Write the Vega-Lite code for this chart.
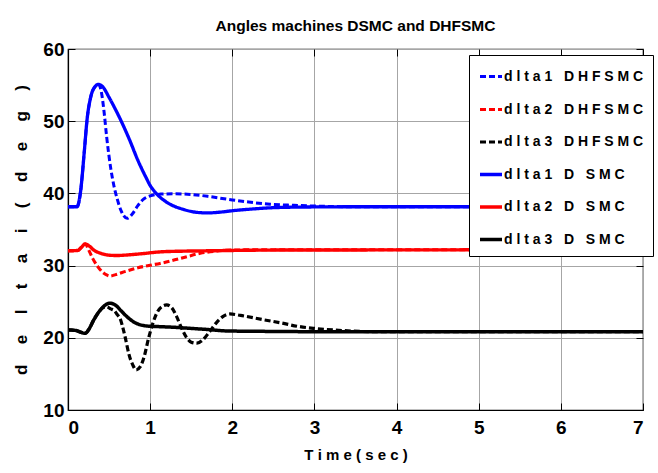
{
  "$schema": "https://vega.github.io/schema/vega-lite/v6.json",
  "width": 575,
  "height": 361,
  "autosize": {"type": "none"},
  "padding": {"left": 68, "top": 49, "right": 15, "bottom": 63},
  "background": "white",
  "title": {"text": "Angles machines DSMC and DHFSMC", "font": "Liberation Sans, sans-serif", "fontSize": 15.5, "fontWeight": "bold", "color": "black", "anchor": "middle", "frame": "group", "offset": 6},
  "config": {
    "view": {"stroke": "black", "strokeWidth": 1.2},
    "axis": {
      "grid": true, "gridColor": "#a6a6a6", "gridWidth": 1, "gridOpacity": 1,
      "domainColor": "black", "domainWidth": 1.2,
      "tickColor": "black", "tickSize": -7, "tickWidth": 1,
      "labelFont": "Liberation Sans, sans-serif", "labelFontSize": 19, "labelFontWeight": "bold", "labelColor": "black",
      "titleColor": "black", "titleFontWeight": "bold"
    }
  },
  "data": {"values": [
    {"s":"dlta1 D SMC","t":0,"v":38.15},{"s":"dlta1 D SMC","t":0.11,"v":38.15},{"s":"dlta1 D SMC","t":0.15,"v":40},{"s":"dlta1 D SMC","t":0.2,"v":46},{"s":"dlta1 D SMC","t":0.23,"v":50},{"s":"dlta1 D SMC","t":0.28,"v":53.5},{"s":"dlta1 D SMC","t":0.33,"v":54.8},{"s":"dlta1 D SMC","t":0.37,"v":55.1},{"s":"dlta1 D SMC","t":0.42,"v":54.8},{"s":"dlta1 D SMC","t":0.5,"v":53.3},{"s":"dlta1 D SMC","t":0.57,"v":51.8},{"s":"dlta1 D SMC","t":0.64,"v":50.2},{"s":"dlta1 D SMC","t":0.75,"v":47.4},{"s":"dlta1 D SMC","t":0.85,"v":44.6},{"s":"dlta1 D SMC","t":0.95,"v":42.2},{"s":"dlta1 D SMC","t":1.0,"v":41.1},{"s":"dlta1 D SMC","t":1.05,"v":40.3},{"s":"dlta1 D SMC","t":1.15,"v":39.2},{"s":"dlta1 D SMC","t":1.26,"v":38.4},{"s":"dlta1 D SMC","t":1.4,"v":37.8},{"s":"dlta1 D SMC","t":1.55,"v":37.4},{"s":"dlta1 D SMC","t":1.7,"v":37.3},{"s":"dlta1 D SMC","t":1.85,"v":37.4},{"s":"dlta1 D SMC","t":2.0,"v":37.6},{"s":"dlta1 D SMC","t":2.2,"v":37.8},{"s":"dlta1 D SMC","t":2.46,"v":38.0},{"s":"dlta1 D SMC","t":2.8,"v":38.1},{"s":"dlta1 D SMC","t":3.5,"v":38.15},{"s":"dlta1 D SMC","t":5,"v":38.15},{"s":"dlta1 D SMC","t":7,"v":38.15},
    {"s":"dlta2 D SMC","t":0,"v":32.05},{"s":"dlta2 D SMC","t":0.12,"v":32.1},{"s":"dlta2 D SMC","t":0.16,"v":32.5},{"s":"dlta2 D SMC","t":0.21,"v":33.0},{"s":"dlta2 D SMC","t":0.26,"v":32.7},{"s":"dlta2 D SMC","t":0.32,"v":32.1},{"s":"dlta2 D SMC","t":0.4,"v":31.7},{"s":"dlta2 D SMC","t":0.49,"v":31.45},{"s":"dlta2 D SMC","t":0.6,"v":31.4},{"s":"dlta2 D SMC","t":0.75,"v":31.5},{"s":"dlta2 D SMC","t":0.9,"v":31.65},{"s":"dlta2 D SMC","t":1.12,"v":31.9},{"s":"dlta2 D SMC","t":1.4,"v":32.0},{"s":"dlta2 D SMC","t":1.7,"v":32.05},{"s":"dlta2 D SMC","t":2.0,"v":32.1},{"s":"dlta2 D SMC","t":2.5,"v":32.15},{"s":"dlta2 D SMC","t":7,"v":32.2},
    {"s":"dlta3 D SMC","t":0,"v":21.1},{"s":"dlta3 D SMC","t":0.1,"v":21.0},{"s":"dlta3 D SMC","t":0.16,"v":20.75},{"s":"dlta3 D SMC","t":0.21,"v":20.62},{"s":"dlta3 D SMC","t":0.25,"v":21.1},{"s":"dlta3 D SMC","t":0.31,"v":22.4},{"s":"dlta3 D SMC","t":0.37,"v":23.5},{"s":"dlta3 D SMC","t":0.43,"v":24.3},{"s":"dlta3 D SMC","t":0.51,"v":24.8},{"s":"dlta3 D SMC","t":0.58,"v":24.5},{"s":"dlta3 D SMC","t":0.65,"v":23.7},{"s":"dlta3 D SMC","t":0.72,"v":22.9},{"s":"dlta3 D SMC","t":0.8,"v":22.2},{"s":"dlta3 D SMC","t":0.88,"v":21.8},{"s":"dlta3 D SMC","t":0.96,"v":21.63},{"s":"dlta3 D SMC","t":1.1,"v":21.55},{"s":"dlta3 D SMC","t":1.3,"v":21.45},{"s":"dlta3 D SMC","t":1.5,"v":21.3},{"s":"dlta3 D SMC","t":1.7,"v":21.15},{"s":"dlta3 D SMC","t":1.93,"v":20.95},{"s":"dlta3 D SMC","t":2.3,"v":20.9},{"s":"dlta3 D SMC","t":3,"v":20.85},{"s":"dlta3 D SMC","t":7,"v":20.85},
    {"s":"dlta1 DHFSMC","t":0,"v":38.15},{"s":"dlta1 DHFSMC","t":0.11,"v":38.15},{"s":"dlta1 DHFSMC","t":0.15,"v":40},{"s":"dlta1 DHFSMC","t":0.2,"v":46},{"s":"dlta1 DHFSMC","t":0.23,"v":50},{"s":"dlta1 DHFSMC","t":0.28,"v":53.5},{"s":"dlta1 DHFSMC","t":0.33,"v":54.8},{"s":"dlta1 DHFSMC","t":0.37,"v":55.1},{"s":"dlta1 DHFSMC","t":0.41,"v":53.8},{"s":"dlta1 DHFSMC","t":0.44,"v":51.2},{"s":"dlta1 DHFSMC","t":0.47,"v":47.9},{"s":"dlta1 DHFSMC","t":0.52,"v":43.5},{"s":"dlta1 DHFSMC","t":0.56,"v":41},{"s":"dlta1 DHFSMC","t":0.6,"v":39.2},{"s":"dlta1 DHFSMC","t":0.65,"v":37.5},{"s":"dlta1 DHFSMC","t":0.72,"v":36.55},{"s":"dlta1 DHFSMC","t":0.78,"v":37.1},{"s":"dlta1 DHFSMC","t":0.85,"v":38.3},{"s":"dlta1 DHFSMC","t":0.92,"v":39.2},{"s":"dlta1 DHFSMC","t":1.0,"v":39.65},{"s":"dlta1 DHFSMC","t":1.13,"v":39.9},{"s":"dlta1 DHFSMC","t":1.3,"v":39.95},{"s":"dlta1 DHFSMC","t":1.5,"v":39.85},{"s":"dlta1 DHFSMC","t":1.7,"v":39.6},{"s":"dlta1 DHFSMC","t":1.85,"v":39.35},{"s":"dlta1 DHFSMC","t":2.0,"v":39.1},{"s":"dlta1 DHFSMC","t":2.2,"v":38.8},{"s":"dlta1 DHFSMC","t":2.46,"v":38.5},{"s":"dlta1 DHFSMC","t":2.75,"v":38.35},{"s":"dlta1 DHFSMC","t":3.0,"v":38.25},{"s":"dlta1 DHFSMC","t":3.5,"v":38.15},{"s":"dlta1 DHFSMC","t":7,"v":38.15},
    {"s":"dlta2 DHFSMC","t":0,"v":32.05},{"s":"dlta2 DHFSMC","t":0.12,"v":32.1},{"s":"dlta2 DHFSMC","t":0.16,"v":32.5},{"s":"dlta2 DHFSMC","t":0.21,"v":33.0},{"s":"dlta2 DHFSMC","t":0.25,"v":32.2},{"s":"dlta2 DHFSMC","t":0.3,"v":31.0},{"s":"dlta2 DHFSMC","t":0.36,"v":29.9},{"s":"dlta2 DHFSMC","t":0.42,"v":29.1},{"s":"dlta2 DHFSMC","t":0.47,"v":28.7},{"s":"dlta2 DHFSMC","t":0.51,"v":28.55},{"s":"dlta2 DHFSMC","t":0.58,"v":28.75},{"s":"dlta2 DHFSMC","t":0.7,"v":29.2},{"s":"dlta2 DHFSMC","t":0.85,"v":29.7},{"s":"dlta2 DHFSMC","t":1.0,"v":30.05},{"s":"dlta2 DHFSMC","t":1.12,"v":30.3},{"s":"dlta2 DHFSMC","t":1.3,"v":30.8},{"s":"dlta2 DHFSMC","t":1.45,"v":31.25},{"s":"dlta2 DHFSMC","t":1.61,"v":31.7},{"s":"dlta2 DHFSMC","t":1.8,"v":32.0},{"s":"dlta2 DHFSMC","t":2.0,"v":32.15},{"s":"dlta2 DHFSMC","t":2.5,"v":32.2},{"s":"dlta2 DHFSMC","t":7,"v":32.2},
    {"s":"dlta3 DHFSMC","t":0,"v":21.1},{"s":"dlta3 DHFSMC","t":0.1,"v":21.0},{"s":"dlta3 DHFSMC","t":0.16,"v":20.75},{"s":"dlta3 DHFSMC","t":0.21,"v":20.62},{"s":"dlta3 DHFSMC","t":0.25,"v":21.1},{"s":"dlta3 DHFSMC","t":0.31,"v":22.4},{"s":"dlta3 DHFSMC","t":0.37,"v":23.5},{"s":"dlta3 DHFSMC","t":0.43,"v":24.2},{"s":"dlta3 DHFSMC","t":0.47,"v":24.3},{"s":"dlta3 DHFSMC","t":0.52,"v":24.0},{"s":"dlta3 DHFSMC","t":0.56,"v":23.8},{"s":"dlta3 DHFSMC","t":0.6,"v":23.2},{"s":"dlta3 DHFSMC","t":0.64,"v":22.5},{"s":"dlta3 DHFSMC","t":0.67,"v":21.3},{"s":"dlta3 DHFSMC","t":0.7,"v":19.9},{"s":"dlta3 DHFSMC","t":0.74,"v":17.8},{"s":"dlta3 DHFSMC","t":0.79,"v":16.2},{"s":"dlta3 DHFSMC","t":0.83,"v":15.55},{"s":"dlta3 DHFSMC","t":0.88,"v":16.0},{"s":"dlta3 DHFSMC","t":0.93,"v":17.5},{"s":"dlta3 DHFSMC","t":0.98,"v":19.9},{"s":"dlta3 DHFSMC","t":1.03,"v":21.9},{"s":"dlta3 DHFSMC","t":1.08,"v":23.4},{"s":"dlta3 DHFSMC","t":1.14,"v":24.3},{"s":"dlta3 DHFSMC","t":1.2,"v":24.55},{"s":"dlta3 DHFSMC","t":1.26,"v":24.2},{"s":"dlta3 DHFSMC","t":1.32,"v":23.0},{"s":"dlta3 DHFSMC","t":1.38,"v":21.4},{"s":"dlta3 DHFSMC","t":1.44,"v":20.1},{"s":"dlta3 DHFSMC","t":1.5,"v":19.4},{"s":"dlta3 DHFSMC","t":1.57,"v":19.25},{"s":"dlta3 DHFSMC","t":1.64,"v":19.7},{"s":"dlta3 DHFSMC","t":1.72,"v":20.8},{"s":"dlta3 DHFSMC","t":1.8,"v":22.0},{"s":"dlta3 DHFSMC","t":1.88,"v":22.9},{"s":"dlta3 DHFSMC","t":1.97,"v":23.3},{"s":"dlta3 DHFSMC","t":2.1,"v":23.1},{"s":"dlta3 DHFSMC","t":2.38,"v":22.5},{"s":"dlta3 DHFSMC","t":2.6,"v":22.05},{"s":"dlta3 DHFSMC","t":2.79,"v":21.6},{"s":"dlta3 DHFSMC","t":3.0,"v":21.3},{"s":"dlta3 DHFSMC","t":3.35,"v":21.0},{"s":"dlta3 DHFSMC","t":3.7,"v":20.85},{"s":"dlta3 DHFSMC","t":7,"v":20.85}
  ]},
  "layer": [
    {
      "mark": {"type": "line", "interpolate": "monotone", "strokeCap": "butt"},
      "encoding": {
        "x": {"field": "t", "type": "quantitative", "scale": {"domain": [0, 7], "nice": false, "zero": false},
          "axis": {"orient": "bottom", "values": [0,1,2,3,4,5,6,7], "title": "T\u00a0i\u00a0m\u00a0e\u00a0(\u00a0s\u00a0e\u00a0c\u00a0)", "titleFont": "Liberation Sans, sans-serif", "titleFontSize": 15, "labelPadding": 15, "titlePadding": 10}},
        "y": {"field": "v", "type": "quantitative", "scale": {"domain": [10, 60], "nice": false, "zero": false},
          "axis": {"orient": "left", "values": [10,20,30,40,50,60], "title": "d\u2003\u2009e\u2003\u2009l\u2003\u2009t\u2003\u2009a\u2003\u2009i\u2003\u2009(\u2003\u2009d\u2003\u2009e\u2003\u2009g\u2003\u2009)", "titleFont": "Liberation Sans, sans-serif", "titleFontSize": 17, "labelPadding": 11, "titlePadding": 12}},
        "color": {"field": "s", "type": "nominal",
          "scale": {"domain": ["dlta1 DHFSMC","dlta2 DHFSMC","dlta3 DHFSMC","dlta1 D SMC","dlta2 D SMC","dlta3 D SMC"], "range": ["#0000ff","#ff0000","#000000","#0000ff","#ff0000","#000000"]},
          "legend": {"orient": "none", "legendX": 401, "legendY": 6, "title": null, "symbolType": "stroke", "symbolSize": 484,
            "labelFont": "Liberation Sans, sans-serif", "labelFontSize": 14, "labelFontWeight": "bold", "labelColor": "black",
            "strokeColor": "black", "fillColor": "white", "padding": 9, "rowPadding": 12.5, "labelOffset": 0, "labelLimit": 220,
            "labelExpr": "join(split(datum.label, ''), '\u00a0')"}},
        "strokeDash": {"field": "s", "type": "nominal",
          "scale": {"domain": ["dlta1 DHFSMC","dlta2 DHFSMC","dlta3 DHFSMC","dlta1 D SMC","dlta2 D SMC","dlta3 D SMC"], "range": [[6,3],[6,3],[6,3],[1,0],[1,0],[1,0]]}},
        "strokeWidth": {"field": "s", "type": "nominal",
          "scale": {"domain": ["dlta1 DHFSMC","dlta2 DHFSMC","dlta3 DHFSMC","dlta1 D SMC","dlta2 D SMC","dlta3 D SMC"], "range": [3,3.5,2.5,4.5,4.5,4.5]}}
      }
    },
    {
      "mark": {"type": "point", "opacity": 0},
      "encoding": {
        "x": {"field": "t", "type": "quantitative", "axis": {"orient": "top", "values": [0,1,2,3,4,5,6,7], "labels": false, "title": null, "grid": false, "domain": false}},
        "y": {"field": "v", "type": "quantitative", "axis": {"orient": "right", "values": [10,20,30,40,50,60], "labels": false, "title": null, "grid": false, "domain": false}}
      }
    }
  ],
  "resolve": {"axis": {"x": "independent", "y": "independent"}}
}
